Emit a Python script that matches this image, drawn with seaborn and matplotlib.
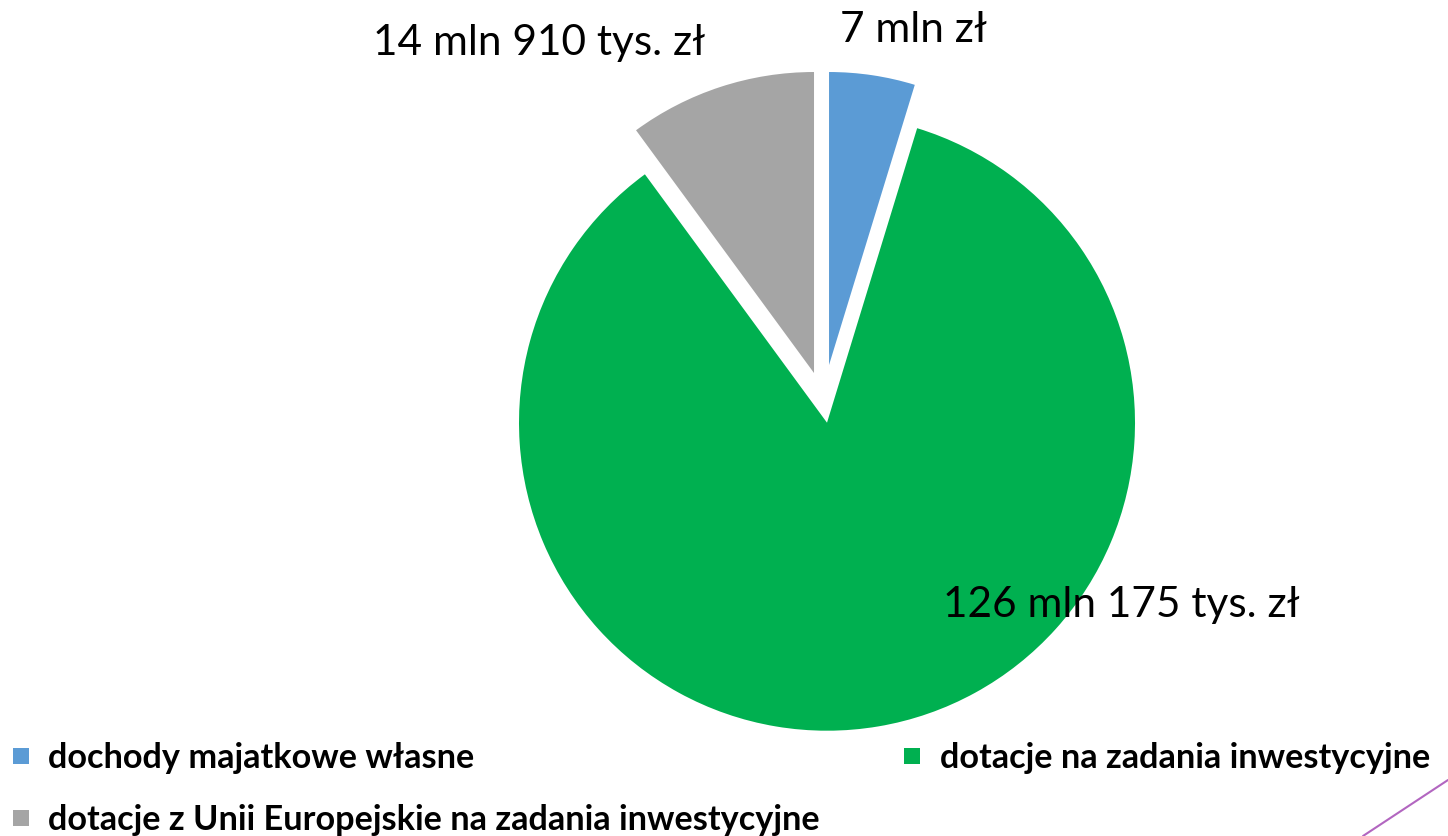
import matplotlib
matplotlib.use("Agg")
import matplotlib.pyplot as plt
import seaborn as sns
from matplotlib.lines import Line2D

sns.set_theme(style="white")
plt.rcParams['font.family'] = ['Lato', 'DejaVu Sans']

categories = ["dochody majatkowe własne", "dotacje na zadania inwestycyjne",
              "dotacje z Unii Europejskie na zadania inwestycyjne"]
values = [7.0, 126.175, 14.91]  # mln zł
value_labels = ["7 mln zł", "126 mln 175 tys. zł", "14 mln 910 tys. zł"]
colors = ["#5B9BD5", "#00B050", "#A5A5A5"]

W, H = 1448, 836
fig = plt.figure(figsize=(W / 100, H / 100), dpi=100)
ax = fig.add_axes([0, 0, 1, 1])

R = 300
explode = [37.4, 21.0, 30.5]  # data units (pixels)
radii = [293, 308, 301]
wedges, _ = ax.pie(values, colors=colors, startangle=90, counterclock=False,
                   radius=R, center=(823.5, H - 402), explode=explode,
                   wedgeprops=dict(linewidth=0))
for w, r in zip(wedges, radii):
    w.set_radius(r)

ax.set_xlim(0, W)
ax.set_ylim(0, H)
ax.set_aspect("equal")
ax.axis("off")

label_pos = [(913, H - 30), (1121, H - 605), (539, H - 43)]
for (x, y), t in zip(label_pos, value_labels):
    ax.text(x, y, t, ha="center", va="center", fontsize=30.5, color="black")

order = [0, 2, 1]
handles = [Line2D([], [], marker="s", linestyle="none", markersize=12,
                  markerfacecolor=colors[i], markeredgewidth=0) for i in order]
fig.legend(handles, [categories[i] for i in order], ncol=2,
           loc="upper left", bbox_to_anchor=(0.0, 1 - 732 / H),
           frameon=False, prop=dict(weight="bold", size=24.7), labelcolor="black",
           handlelength=0.6, handletextpad=0.5, columnspacing=2.4,
           labelspacing=0.87, borderaxespad=0, borderpad=0.3)

fig.add_artist(Line2D([1363 / W, 1.0], [0.0, 1 - 780 / H],
                      transform=fig.transFigure, color="#B266C0", linewidth=1.5))

fig.savefig("out.png", dpi=100)
